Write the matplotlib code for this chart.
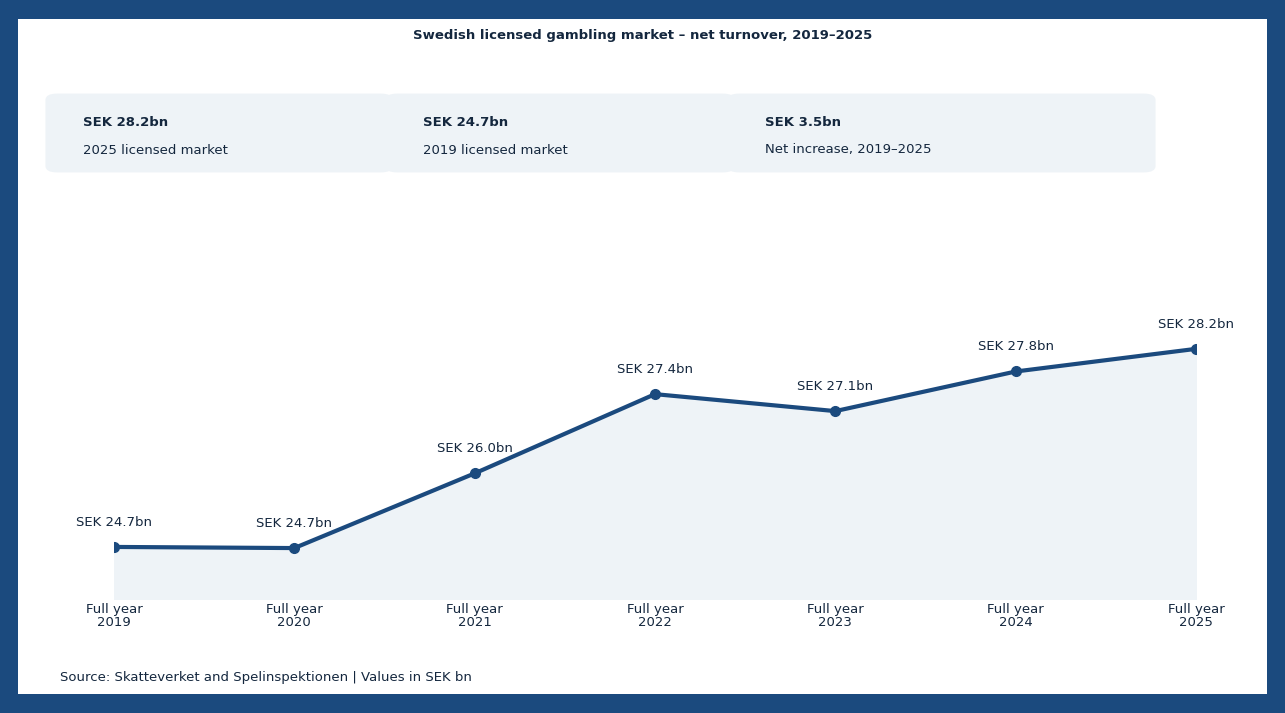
import matplotlib
matplotlib.use("Agg")
import matplotlib.pyplot as plt
from matplotlib.patches import FancyBboxPatch, Rectangle

years = ["Full year\n2019", "Full year\n2020", "Full year\n2021", "Full year\n2022",
         "Full year\n2023", "Full year\n2024", "Full year\n2025"]
values = [24.7, 24.68, 26.0, 27.4, 27.1, 27.8, 28.2]
labels = ["SEK 24.7bn", "SEK 24.7bn", "SEK 26.0bn", "SEK 27.4bn", "SEK 27.1bn", "SEK 27.8bn", "SEK 28.2bn"]
card_vals = ["SEK 28.2bn", "SEK 24.7bn", "SEK 3.5bn"]
card_desc = ["2025 licensed market", "2019 licensed market", "Net increase, 2019–2025"]

W, H = 1285, 713
BLUE = "#1B4A7E"
TXT = "#14273E"
FILL = "#EEF3F7"
fig = plt.figure(figsize=(W/100, H/100), dpi=100)
fig.patch.set_facecolor(BLUE)
fig.add_artist(Rectangle((18/W, 19/H), (1267-18)/W, (694-19)/H, transform=fig.transFigure,
                         facecolor="white", edgecolor="none", zorder=0))

def fx(px): return px/W
def fy(py): return 1 - py/H

fig.text(0.5, fy(35), "Swedish licensed gambling market – net turnover, 2019–2025",
         ha="center", va="center", fontsize=9.5, fontweight="bold", color=TXT)

cards = [(45, 393), (385, 735), (727, 1156)]
for (x0, x1), v, d in zip(cards, card_vals, card_desc):
    fig.add_artist(FancyBboxPatch((fx(x0+12), fy(178-12)), fx(x1-x0-24), (90-24)/H,
                                  boxstyle="round,pad=0.009", transform=fig.transFigure,
                                  facecolor=FILL, edgecolor="none", zorder=1))
    fig.text(fx(x0+38), fy(122), v, fontsize=9.5, fontweight="bold", color=TXT, va="center")
    fig.text(fx(x0+38), fy(150), d, fontsize=9.5, color=TXT, va="center")

ax = fig.add_axes([fx(114), fy(599), fx(1196-114), (599-320)/H])
ax.set_facecolor("none")
x = list(range(len(values)))
ymin = 23.78
ax.fill_between(x, values, ymin, color=FILL, zorder=1)
ax.plot(x, values, color=BLUE, lw=3, marker="o", ms=7, zorder=3)
for xi, v, l in zip(x, values, labels):
    ax.annotate(l, (xi, v), xytext=(0, 13), textcoords="offset points",
                ha="center", va="bottom", fontsize=9.5, color=TXT, zorder=4)
ax.set_xlim(0, 6)
ax.set_ylim(ymin, 28.71)
ax.set_xticks(x)
ax.set_xticklabels(years, fontsize=9.5, color=TXT, linespacing=1.0)
ax.tick_params(axis="x", length=0, pad=3)
ax.set_yticks([])
for s in ax.spines.values():
    s.set_visible(False)

fig.text(fx(60), fy(677), "Source: Skatteverket and Spelinspektionen | Values in SEK bn",
         fontsize=9.5, color=TXT, va="center")
fig.savefig("out.png", dpi=100)
